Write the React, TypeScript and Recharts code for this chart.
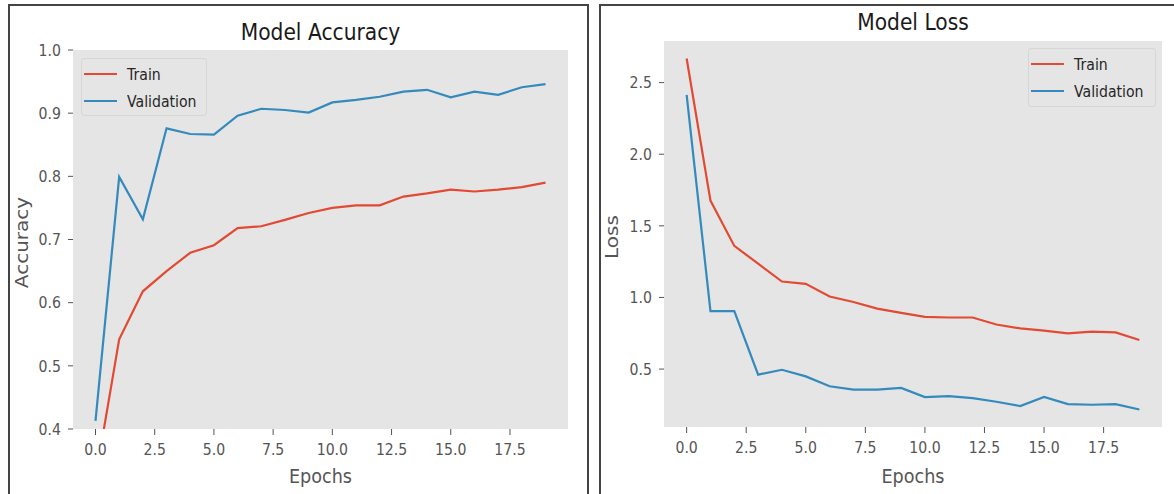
import { LineChart, Line, XAxis, YAxis, CartesianGrid, Legend } from 'recharts'

const epochs = [0, 1, 2, 3, 4, 5, 6, 7, 8, 9, 10, 11, 12, 13, 14, 15, 16, 17, 18, 19]
const trainAccuracy = [
  0.322, 0.542, 0.618, 0.65, 0.679, 0.691, 0.718, 0.721, 0.731, 0.742,
  0.75, 0.754, 0.754, 0.768, 0.773, 0.779, 0.776, 0.779, 0.783, 0.79,
]
const valAccuracy = [
  0.413, 0.799, 0.732, 0.876, 0.867, 0.866, 0.896, 0.907, 0.905, 0.901,
  0.917, 0.921, 0.926, 0.934, 0.937, 0.925, 0.934, 0.929, 0.941, 0.946,
]
const trainLoss = [
  2.668, 1.676, 1.36, 1.236, 1.111, 1.095, 1.007, 0.968, 0.922, 0.892,
  0.864, 0.86, 0.86, 0.811, 0.784, 0.768, 0.749, 0.761, 0.756, 0.703,
]
const valLoss = [
  2.415, 0.904, 0.904, 0.461, 0.495, 0.449, 0.38, 0.357, 0.357, 0.368,
  0.304, 0.311, 0.297, 0.272, 0.242, 0.306, 0.255, 0.251, 0.255, 0.218,
]

const epochTicks = [0, 2.5, 5, 7.5, 10, 12.5, 15, 17.5]
const accuracyTicks = [0.4, 0.5, 0.6, 0.7, 0.8, 0.9, 1.0]
const lossTicks = [0.5, 1.0, 1.5, 2.0, 2.5]

const TRAIN_COLOR = '#E24A33'
const VAL_COLOR = '#348ABD'
const PANEL_BG = '#E5E5E5'
const TICK_COLOR = '#555555'
const FONT = "'DejaVu Sans', sans-serif"
const SQUEEZE = 0.88

type Row = { epoch: number; train: number; val: number }

const accuracyRows: Row[] = epochs.map((e, i) => ({ epoch: e, train: trainAccuracy[i], val: valAccuracy[i] }))
const lossRows: Row[] = epochs.map((e, i) => ({ epoch: e, train: trainLoss[i], val: valLoss[i] }))

// matplotlib-style 5% padding around the data
function padded(values: number[]): [number, number] {
  const lo = Math.min(...values)
  const hi = Math.max(...values)
  const m = (hi - lo) * 0.05
  return [lo - m, hi + m]
}

const xDomain = padded(epochs)

function squeezeAt(x: number, y: number, rotated = false) {
  return rotated
    ? `translate(${x},${y}) rotate(-90) scale(1,${SQUEEZE})`
    : `translate(${x},${y}) scale(${SQUEEZE},1)`
}

const YTick = (props: any) => (
  <text
    transform={squeezeAt(props.x, props.y)}
    textAnchor="end"
    dy="0.355em"
    fontSize={16}
    fontFamily={FONT}
    fill={TICK_COLOR}
  >
    {Number(props.payload.value).toFixed(1)}
  </text>
)

const XTick = (props: any) => (
  <text
    transform={squeezeAt(props.x, props.y)}
    textAnchor="middle"
    dy="0.71em"
    fontSize={16}
    fontFamily={FONT}
    fill={TICK_COLOR}
  >
    {Number(props.payload.value).toFixed(1)}
  </text>
)

const LegendBox = ({ payload }: any) => (
  <div
    style={{
      position: 'relative',
      width: '100%',
      height: '100%',
      boxSizing: 'border-box',
      border: '1px solid #d6d6d6',
      borderRadius: 3,
      background: PANEL_BG,
      fontFamily: FONT,
    }}
  >
    {(payload ?? []).map((item: any, i: number) => (
      <div
        key={item.value}
        style={{ position: 'absolute', left: 2, top: 5 + i * 27, height: 20, display: 'flex', alignItems: 'center' }}
      >
        <div style={{ width: 33, height: 2.5, background: item.color }} />
        <span
          style={{
            marginLeft: 10,
            fontSize: 16,
            color: '#262626',
            transform: `scaleX(${SQUEEZE})`,
            transformOrigin: 'left center',
            whiteSpace: 'nowrap',
          }}
        >
          {item.value}
        </span>
      </div>
    ))}
  </div>
)

interface PanelProps {
  left: number
  width: number
  title: string
  yLabel: string
  rows: Row[]
  yDomain: [number, number]
  yTicks: number[]
  margin: { top: number; right: number; bottom: number; left: number }
  yAxisWidth: number
  legendPos: { left: number; top: number; width: number; height: number }
  titleY: number
}

function Panel(p: PanelProps) {
  const plotLeft = p.margin.left + p.yAxisWidth
  const plotRight = p.width - p.margin.right
  const titleX = (plotLeft + plotRight) / 2
  return (
    <div style={{ position: 'absolute', left: p.left, top: 0, width: p.width, height: 494 }}>
      <LineChart width={p.width} height={494} data={p.rows} margin={p.margin}>
        <CartesianGrid horizontal={false} vertical={false} fill={PANEL_BG} stroke="none" />
        <XAxis
          type="number"
          dataKey="epoch"
          domain={xDomain}
          ticks={epochTicks}
          allowDataOverflow
          axisLine={false}
          tickLine={{ stroke: TICK_COLOR, strokeWidth: 1 }}
          tickSize={6}
          tickMargin={9}
          height={30}
          tick={XTick}
          label={(lp: any) => {
            const vb = lp.viewBox ?? {}
            return (
              <text
                transform={squeezeAt(vb.x + vb.width / 2, 483)}
                textAnchor="middle"
                fontSize={20}
                fontFamily={FONT}
                fill={TICK_COLOR}
              >
                Epochs
              </text>
            )
          }}
        />
        <YAxis
          type="number"
          domain={p.yDomain}
          ticks={p.yTicks}
          allowDataOverflow
          axisLine={false}
          tickLine={{ stroke: TICK_COLOR, strokeWidth: 1 }}
          tickSize={5}
          tickMargin={7}
          width={p.yAxisWidth}
          tick={YTick}
          label={(lp: any) => {
            const vb = lp.viewBox ?? {}
            return (
              <text
                transform={squeezeAt(28, vb.y + vb.height / 2 + 3, true)}
                textAnchor="middle"
                fontSize={20}
                fontFamily={FONT}
                fill={TICK_COLOR}
              >
                {p.yLabel}
              </text>
            )
          }}
        />
        <Legend
          layout="vertical"
          align="center"
          verticalAlign="middle"
          content={LegendBox}
          wrapperStyle={{ position: 'absolute', ...p.legendPos }}
        />
        <Line
          type="linear"
          dataKey="train"
          name="Train"
          stroke={TRAIN_COLOR}
          strokeWidth={2.2}
          dot={false}
          isAnimationActive={false}
        />
        <Line
          type="linear"
          dataKey="val"
          name="Validation"
          stroke={VAL_COLOR}
          strokeWidth={2.2}
          dot={false}
          isAnimationActive={false}
        />
      </LineChart>
      <svg
        width={p.width}
        height={60}
        style={{ position: 'absolute', left: 0, top: 0, pointerEvents: 'none' }}
      >
        <text
          transform={squeezeAt(titleX, p.titleY)}
          textAnchor="middle"
          fontSize={23}
          fontFamily={FONT}
          fill="#1a1a1a"
        >
          {p.title}
        </text>
      </svg>
    </div>
  )
}

export default function App() {
  return (
    <div
      style={{
        position: 'absolute',
        left: 0,
        top: 0,
        width: 1174,
        height: 494,
        overflow: 'hidden',
        background: '#fff',
      }}
    >
      <div
        style={{
          position: 'absolute',
          left: 8,
          top: 4,
          width: 581,
          height: 520,
          boxSizing: 'border-box',
          border: '2px solid #444',
        }}
      />
      <div
        style={{
          position: 'absolute',
          left: 599,
          top: 4,
          width: 620,
          height: 520,
          boxSizing: 'border-box',
          border: '2px solid #444',
        }}
      />
      <Panel
        left={0}
        width={590}
        title="Model Accuracy"
        yLabel="Accuracy"
        rows={accuracyRows}
        yDomain={[0.4, 1.0]}
        yTicks={accuracyTicks}
        margin={{ top: 50, right: 22, bottom: 35, left: 0 }}
        yAxisWidth={73}
        legendPos={{ left: 81, top: 58, width: 126, height: 58 }}
        titleY={40}
      />
      <Panel
        left={590}
        width={584}
        title="Model Loss"
        yLabel="Loss"
        rows={lossRows}
        yDomain={padded([...trainLoss, ...valLoss])}
        yTicks={lossTicks}
        margin={{ top: 41, right: 12, bottom: 37, left: 0 }}
        yAxisWidth={74}
        legendPos={{ left: 438, top: 48, width: 128, height: 59 }}
        titleY={30}
      />
    </div>
  )
}
